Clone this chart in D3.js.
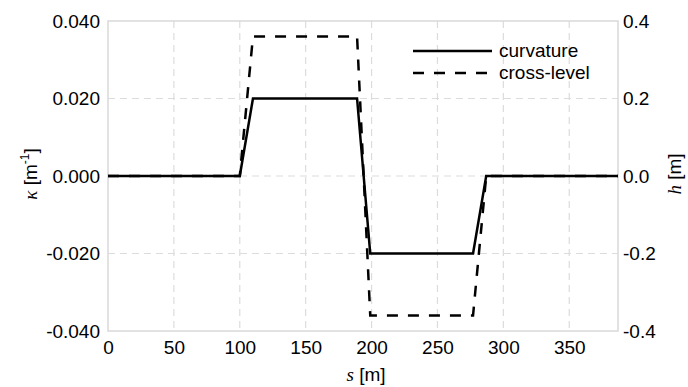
<!DOCTYPE html>
<html>
<head>
<meta charset="utf-8">
<script src="https://cdn.jsdelivr.net/npm/d3@7"></script>
<style>
  body { margin: 0; background: #fff; }
  text { font-family: "Liberation Sans", Arial, sans-serif; fill: #000; }
</style>
</head>
<body>
<div id="chart"></div>
<script>
let width = 688;
let height = 387;
let margin = {top: 21, right: 70, bottom: 56, left: 108};

// distance along track [m]
let sValues = [0, 100, 110, 189, 199, 277, 287, 387];
// curvature [1/m]
let kappaValues = [0, 0, 0.02, 0.02, -0.02, -0.02, 0, 0];
// cross-level [m]
let hValues = [0, 0, 0.36, 0.36, -0.36, -0.36, 0, 0];

let xTicks = [0, 50, 100, 150, 200, 250, 300, 350];
let kappaTicks = [-0.04, -0.02, 0, 0.02, 0.04];
let hTicks = [-0.4, -0.2, 0, 0.2, 0.4];

let legendLabels = ["curvature", "cross-level"];

let svg = d3.select("#chart")
  .append("svg")
  .attr("width", width)
  .attr("height", height);

let x = d3.scaleLinear().domain([0, 387]).range([margin.left, width - margin.right]);
let yK = d3.scaleLinear().domain([-0.04, 0.04]).range([height - margin.bottom, margin.top]);
let yH = d3.scaleLinear().domain([-0.4, 0.4]).range([height - margin.bottom, margin.top]);

// grid
let grid = svg.append("g")
  .attr("stroke", "#dcdcdc")
  .attr("stroke-width", 1.2)
  .attr("stroke-dasharray", "7,5");
grid.selectAll(".vg")
  .data(xTicks.slice(1))
  .enter().append("line")
  .attr("x1", d => x(d)).attr("x2", d => x(d))
  .attr("y1", margin.top).attr("y2", height - margin.bottom);
grid.selectAll(".hg")
  .data(kappaTicks.slice(1, -1))
  .enter().append("line")
  .attr("x1", margin.left).attr("x2", width - margin.right)
  .attr("y1", d => yK(d)).attr("y2", d => yK(d));

// frame
svg.append("rect")
  .attr("x", margin.left).attr("y", margin.top)
  .attr("width", width - margin.left - margin.right)
  .attr("height", height - margin.top - margin.bottom)
  .attr("fill", "none")
  .attr("stroke", "#d9d9d9")
  .attr("stroke-width", 1.5);

let fontSize = 19;

// axes
let xAxis = svg.append("g")
  .attr("transform", "translate(0," + (height - margin.bottom) + ")")
  .call(d3.axisBottom(x).tickValues(xTicks).tickSize(0).tickPadding(10).tickFormat(d3.format("d")));
let leftAxis = svg.append("g")
  .attr("transform", "translate(" + margin.left + ",0)")
  .call(d3.axisLeft(yK).tickValues(kappaTicks).tickSize(0).tickPadding(8).tickFormat(d3.format(".3f")));
let rightAxis = svg.append("g")
  .attr("transform", "translate(" + (width - margin.right) + ",0)")
  .call(d3.axisRight(yH).tickValues(hTicks).tickSize(0).tickPadding(5).tickFormat(d3.format(".1f")));

for (let a of [xAxis, leftAxis, rightAxis]) {
  a.select(".domain").remove();
  a.selectAll("text")
    .style("font-family", "'Liberation Sans', Arial, sans-serif")
    .style("font-size", fontSize + "px")
    .attr("fill", "#000");
}
// use a hyphen for minus like the original
leftAxis.selectAll("text").text(d => d3.format(".3f")(d).replace("−", "-"));
rightAxis.selectAll("text").text(d => d3.format(".1f")(d).replace("−", "-"));

// lines
let kappaLine = d3.line()
  .x((d, i) => x(sValues[i]))
  .y(d => yK(d));
let hLine = d3.line()
  .x((d, i) => x(sValues[i]))
  .y(d => yH(d));

svg.append("path")
  .datum(kappaValues)
  .attr("d", kappaLine)
  .attr("fill", "none")
  .attr("stroke", "#000")
  .attr("stroke-width", 2.5);

svg.append("path")
  .datum(hValues)
  .attr("d", hLine)
  .attr("fill", "none")
  .attr("stroke", "#000")
  .attr("stroke-width", 2.5)
  .attr("stroke-dasharray", "11,10");

// axis titles
let serif = "'Liberation Serif', 'DejaVu Serif', serif";

let xt = svg.append("text")
  .attr("x", 366)
  .attr("y", 381)
  .attr("text-anchor", "middle")
  .style("font-size", fontSize + "px");
xt.append("tspan").attr("font-family", serif).attr("font-style", "italic").text("s");
xt.append("tspan").text(" [m]");

let lt = svg.append("text")
  .attr("transform", "translate(37," + (yK(0) - 2) + ") rotate(-90)")
  .attr("text-anchor", "middle")
  .style("font-size", fontSize + "px");
lt.append("tspan").attr("font-family", serif).attr("font-style", "italic").text("κ");
lt.append("tspan").text(" [m");
lt.append("tspan").attr("dy", -8).style("font-size", "12px").text("-1");
lt.append("tspan").attr("dy", 8).text("]");

let rt = svg.append("text")
  .attr("transform", "translate(681," + (yH(0) - 2) + ") rotate(-90)")
  .attr("text-anchor", "middle")
  .style("font-size", fontSize + "px");
rt.append("tspan").attr("font-family", serif).attr("font-style", "italic").text("h");
rt.append("tspan").text(" [m]");

// legend
let legend = svg.append("g");
let legendDash = [null, "11,10"];
legendLabels.forEach(function(lbl, i) {
  let ly = 51 + i * 22;
  legend.append("line")
    .attr("x1", 413).attr("x2", 492)
    .attr("y1", ly).attr("y2", ly)
    .attr("stroke", "#000")
    .attr("stroke-width", 2.5)
    .attr("stroke-dasharray", legendDash[i]);
  legend.append("text")
    .attr("x", 499).attr("y", ly + 6)
    .style("font-size", fontSize + "px")
    .text(lbl);
});
</script>
</body>
</html>
